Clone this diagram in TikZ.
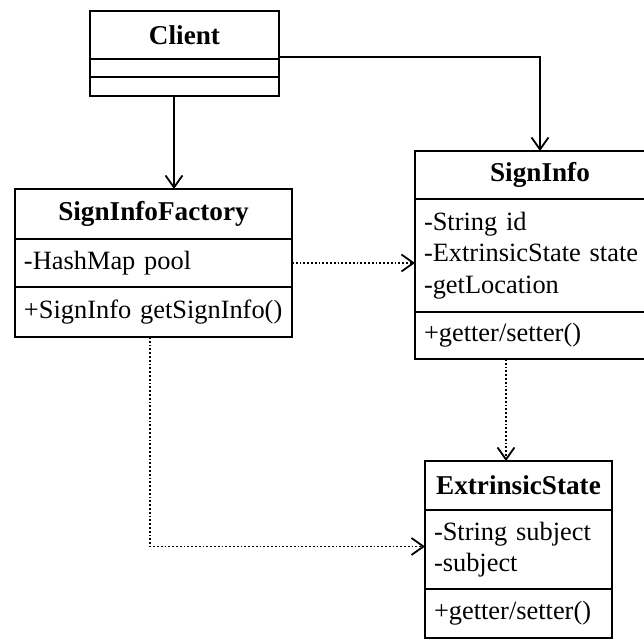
\documentclass[tikz,border=0pt]{standalone}
\usepackage{fontspec}
\setmainfont{Liberation Serif}
\usetikzlibrary{arrows.meta, positioning}

\begin{document}
\begin{tikzpicture}[
    x=0.5pt, y=-0.5pt,
    cls/.style={
      rectangle, draw, line width=1pt, inner xsep=4.5pt, inner ysep=0pt,
      outer sep=0pt, font=\fontsize{13.2}{15.8}\selectfont
    },
    head/.style={cls, minimum width=#1, minimum height=24pt, font=\fontsize{13.6}{15.8}\selectfont\bfseries},
    part/.style={cls, text width=#1, align=left},
    assoc/.style={-{Straight Barb[length=6pt, width=8.5pt]}, line width=0.9pt},
    dep/.style={-{Straight Barb[length=6pt, width=8.5pt]}, line width=0.9pt, densely dotted},
  ]
  \useasboundingbox (0,0) rectangle (644,640);
  \clip (0,0) rectangle (644,640);

  % Client
  \node[head=94.5pt] (client) at (184.5, 35) {Client};
  \node[part=85.5pt, minimum height=9pt, below=0pt of client] (clientAttr) {};
  \node[part=85.5pt, minimum height=9.5pt, below=0pt of clientAttr] (clientOps) {};

  % SignInfoFactory
  \node[head=138.5pt, minimum height=25pt] (factory) at (153.5, 214) {SignInfoFactory};
  \node[part=129.5pt, minimum height=24pt, below=0pt of factory] (factoryAttr) {-HashMap pool};
  \node[part=129.5pt, minimum height=25pt, below=0pt of factoryAttr] (factoryOps) {\mbox{+SignInfo getSignInfo()}};

  % SignInfo
  \node[head=125pt] (sign) at (540, 175) {SignInfo};
  \node[part=116pt, minimum height=56.5pt, below=0pt of sign] (signAttr) {-String id\\-ExtrinsicState state\\-getLocation};
  \node[part=116pt, minimum height=23.5pt, below=0pt of signAttr] (signOps) {+getter/setter()};

  % ExtrinsicState
  \node[head=93.5pt, minimum height=24.5pt] (extr) at (518.5, 485.5) {ExtrinsicState};
  \node[part=84.5pt, minimum height=39.5pt, below=0pt of extr] (extrAttr) {-String subject\\-subject};
  \node[part=84.5pt, minimum height=24.5pt, below=0pt of extrAttr] (extrOps) {+getter/setter()};

  % Associations
  \draw[assoc] ([xshift=-5.25pt]clientOps.south) -- ([xshift=-5.25pt]clientOps.south |- factory.north);
  \draw[assoc] ([yshift=1pt]client.south east) -| (sign.north);

  % Dependencies
  \draw[dep] (factoryAttr.east) -- (factoryAttr.east -| signAttr.west);
  \draw[dep] ([xshift=-1.75pt]factoryOps.south) |- ([yshift=1.5pt]extrAttr.west);
  \draw[dep] ([xshift=-17pt]signOps.south) -- ([xshift=-17pt]signOps.south |- extr.north);

\end{tikzpicture}
\end{document}
